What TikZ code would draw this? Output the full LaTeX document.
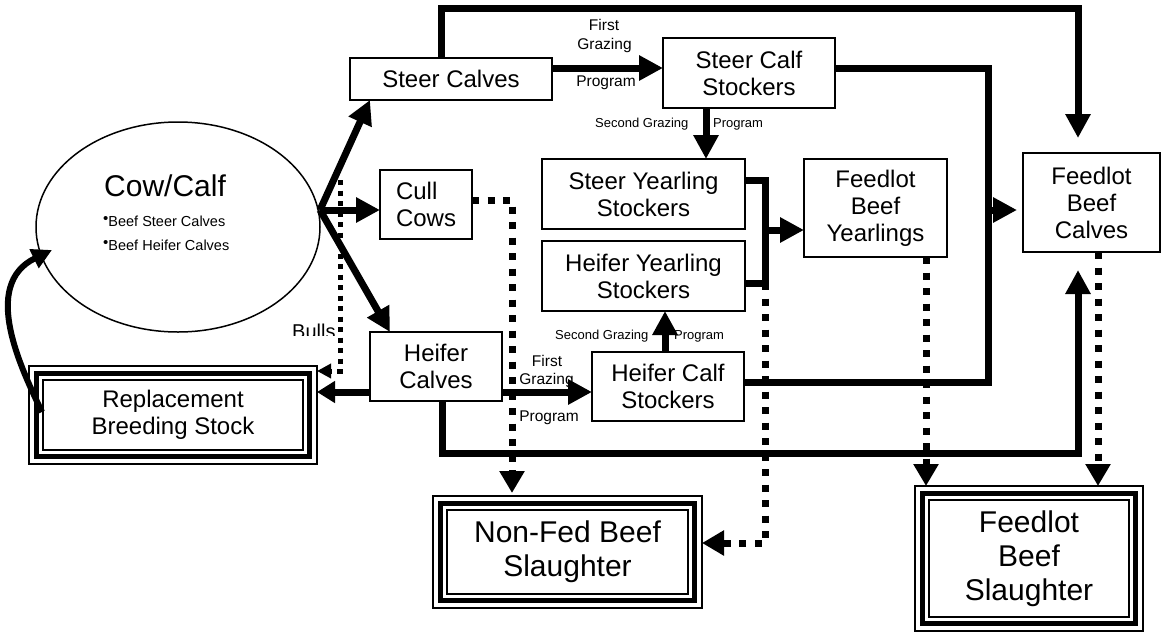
\documentclass[tikz,border=0pt]{standalone}
\usepackage{fontspec}
\setmainfont{Liberation Sans}
\usetikzlibrary{arrows.meta,calc,shapes.geometric}

% small raised bullet used in the Cow/Calf list
\newcommand\bulletmark{\raisebox{3pt}{\fontsize{15}{15}\selectfont •}}

% extra thick and thin frames inside a slaughter / breeding box
\newcommand\framethree[1]{%
  \draw[line width=5pt] ($(#1.north west)+(7.5,7.5)$) rectangle ($(#1.south east)+(-7.5,-7.5)$);
  \draw[line width=1.4pt] ($(#1.north west)+(14,14)$) rectangle ($(#1.south east)+(-14,-14)$);}

\begin{document}
\begin{tikzpicture}[x=1pt,y=-1pt,
  box/.style={draw,line width=1.4pt,inner sep=0pt,outer sep=0pt,align=center,
    font=\fontsize{24}{27}\selectfont},
  bigbox/.style={draw,line width=1.2pt,inner sep=0pt,outer sep=0pt,align=center,
    font=\fontsize{30}{34}\selectfont},
  flow/.style={line width=7pt},
  flowarr/.style={flow,-{Triangle[length=24pt,width=24pt]}},
  dots/.style={line width=7pt,dash pattern=on 7pt off 8.5pt},
  dotarr/.style={dots,-{Triangle[length=22pt,width=24pt]}},
  lab/.style={inner sep=0pt,anchor=base,font=\fontsize{15.5}{15.5}\selectfont},
  slab/.style={inner sep=0pt,anchor=base west,font=\fontsize{13}{13}\selectfont},
  txt/.style={inner sep=0pt,anchor=base west},
]
\useasboundingbox (0,0) rectangle (1161,632);

% ---------- nodes ----------
\node[draw,ellipse,line width=1.5pt,minimum width=284pt,minimum height=210pt,inner sep=0pt] (cow) at (178,227) {};
\node[txt,font=\fontsize{30}{30}\selectfont] (cowtitle) at (104,196) {Cow/Calf};
\node[txt,font=\fontsize{14.5}{14.5}\selectfont] (cowsteer) at (103,226) {\bulletmark Beef Steer Calves};
\node[txt,font=\fontsize{14.5}{14.5}\selectfont] (cowheifer) at (103,250) {\bulletmark Beef Heifer Calves};

\node[box,minimum width=202pt,minimum height=42pt] (stc) at (451,79) {Steer Calves};
\node[box,minimum width=172pt,minimum height=70pt] (scs) at (749,73) {Steer Calf\\Stockers};
\node[box,minimum width=92pt,minimum height=69pt,align=left] (cull) at (426,204.5) {Cull\\Cows};
\node[box,minimum width=203pt,minimum height=70pt] (syr) at (643.5,194) {Steer Yearling\\Stockers};
\node[box,minimum width=203pt,minimum height=70pt] (hyr) at (643.5,276) {Heifer Yearling\\Stockers};
\node[box,minimum width=143pt,minimum height=98pt] (fby) at (875.5,208) {Feedlot\\Beef\\Yearlings};
\node[box,minimum width=137pt,minimum height=99pt] (fbc) at (1091.5,202.5) {Feedlot\\Beef\\Calves};
\node[box,minimum width=132pt,minimum height=69pt] (hc) at (436,366.5) {Heifer\\Calves};
\node[box,minimum width=152pt,minimum height=69pt] (hcs) at (668,386.5) {Heifer Calf\\Stockers};

\node[bigbox,minimum width=288pt,minimum height=98pt,font=\fontsize{24}{27}\selectfont] (rep) at (173,415) {Replacement\\Breeding Stock};
\framethree{rep}
\node[bigbox,minimum width=269pt,minimum height=112pt] (nfs) at (567.5,552) {Non-Fed Beef\\Slaughter};
\framethree{nfs}
\node[bigbox,minimum width=228pt,minimum height=145pt] (fbs) at (1029,558.5) {Feedlot\\Beef\\Slaughter};
\framethree{fbs}

% ---------- helper coordinates ----------
\coordinate (cowout) at (320,210);
\coordinate (cowin) at (52,250);
\coordinate (bullstart) at (340,180);
\coordinate (ytop) at (0,8);
\coordinate (y68) at (0,68);
\coordinate (y180) at (0,180);
\coordinate (y200) at (0,200);
\coordinate (y283) at (0,283);
\coordinate (y382) at (0,382);
\coordinate (y392) at (0,392);
\coordinate (y453) at (0,453);
\coordinate (y543) at (0,543);
\coordinate (x441) at (441,0);
\coordinate (x442) at (442,0);
\coordinate (x512) at (512,0);
\coordinate (x665) at (665,0);
\coordinate (x706) at (706,0);
\coordinate (x765) at (765,0);
\coordinate (x926) at (926,0);
\coordinate (x988) at (988,0);
\coordinate (x1078) at (1078,0);
\coordinate (x1098) at (1098,0);
\coordinate (busout) at (988,210);
\coordinate (yearout) at (765,230);

% ---------- connectors ----------
% Cow/Calf to calves and cull cows
\draw[flowarr] (cowout) -- ($(stc.south west)+(20,0)$);
\draw[flowarr] (cowout) -- (cowout -| cull.west);
\draw[flowarr] (cowout) -- ($(hc.north west)+(20,0)$);

% bulls to replacement stock
\draw[line width=5pt,dash pattern=on 5pt off 5.5pt,-{Triangle[length=14pt,width=14pt]}]
  (bullstart) |- ($(rep.north east)+(0,5)$);
\begin{scope}
  \clip (280,300) rectangle (338,335);
  \node[txt,font=\fontsize{20}{20}\selectfont] (bulls) at (292,338) {Bulls};
\end{scope}

% heifer calves to replacement stock, and back to the herd
\draw[flow,-{Triangle[length=18pt,width=21pt]}] (hc.west |- y392) -- (rep.east |- y392);
\draw[line width=6pt,-{Triangle[length=20pt,width=20pt]}]
  ($(rep.west)+(13,-3)$) .. controls (22,370) and (-20,285) .. (cowin);

% steer path
\draw[flowarr] (stc.east |- y68) -- (scs.west |- y68);
\draw[flowarr,shorten >=15pt] (stc.north -| x441) |- (x1078 |- ytop) -- (x1078 |- fbc.north);
\draw[flowarr] (x706 |- scs.south) -- (x706 |- syr.north);
\draw[flow] (scs.east |- y68) -| (x988 |- y382) -- (hcs.east |- y382);
\draw[flowarr,shorten >=6pt] (busout) -- (busout -| fbc.west);

% yearlings
\draw[flow] (syr.east |- y180) -| (x765 |- y283) -- (hyr.east |- y283);
\draw[flowarr] (yearout) -- (yearout -| fby.west);
\draw[dotarr] (x765 |- y283) |- (nfs.east |- y543);

% cull cows
\draw[dotarr,shorten >=3pt] (cull.east |- y200) -| (x512 |- nfs.north);

% heifer path
\draw[flowarr] (hc.east |- y392) -- (hcs.west |- y392);
\draw[flowarr] (x665 |- hcs.north) -- (x665 |- hyr.south);
\draw[flowarr,shorten >=18pt] (x442 |- hc.south) |- (x1078 |- y453) -- (x1078 |- fbc.south);

% feedlots to slaughter
\draw[dotarr] (x926 |- fby.south) -- (x926 |- fbs.north);
\draw[dotarr] (x1098 |- fbc.south) -- (x1098 |- fbs.north);

% ---------- program labels ----------
\node[lab] (sf1) at (604,30) {First};
\node[lab] (sf2) at (604.5,49) {Grazing};
\node[lab] (sf3) at (606,86) {Program};
\node[slab] (ss1) at (595,127) {Second Grazing};
\node[slab] (ss2) at (713,127) {Program};
\node[lab] (hf1) at (547,366) {First};
\node[lab] (hf2) at (546.5,384) {Grazing};
\node[lab] (hf3) at (549,421) {Program};
\node[slab] (hs1) at (555,339) {Second Grazing};
\node[slab] (hs2) at (674,339) {Program};
\end{tikzpicture}
\end{document}
